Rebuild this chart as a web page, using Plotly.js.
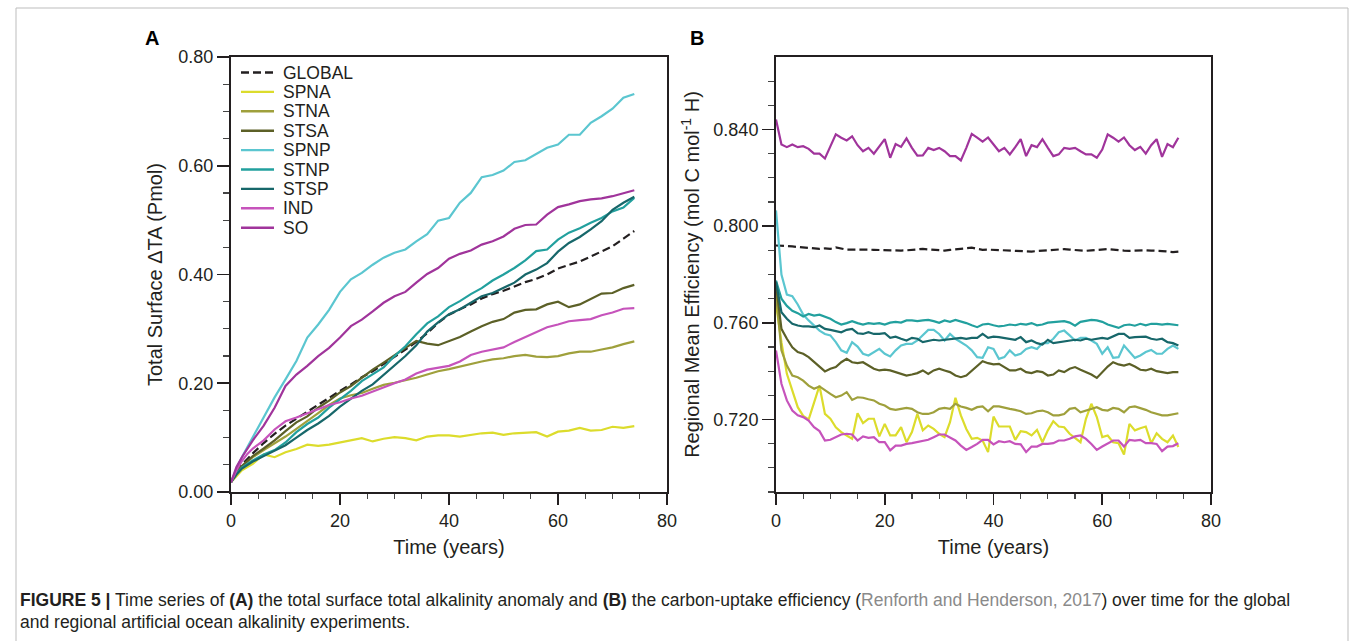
<!DOCTYPE html>
<html><head><meta charset="utf-8">
<script src="https://cdn.plot.ly/plotly-3.0.1.min.js"></script>
<style>html,body{margin:0;padding:0;background:#fff;overflow:hidden}#chart{width:1360px;height:641px}</style>
</head><body><div id="chart"></div>
<script>
// ---------- DATA ----------
const seriesNames = ["GLOBAL","SPNA","STNA","STSA","SPNP","STNP","STSP","IND","SO"];
const seriesColors = ["#231f20","#dcdc2c","#9fa03c","#5c6027","#5bc6d0","#22a09e","#17676a","#c653bb","#a0349b"];

// Panel A: total surface delta TA (Pmol)
const yearsA = [0,1,2,3,4,6,8,10,12,14,16,18,20,22,24,26,28,30,32,34,36,38,40,42,44,46,48,50,52,54,56,58,60,62,64,66,68,70,72,74];
const globalA = [0.018,0.037,0.050,0.061,0.071,0.090,0.107,0.122,0.135,0.148,0.160,0.173,0.186,0.198,0.211,0.222,0.235,0.248,0.262,0.276,0.292,0.311,0.326,0.336,0.345,0.356,0.364,0.370,0.378,0.386,0.392,0.400,0.411,0.418,0.424,0.433,0.442,0.452,0.466,0.480];
const spnaA   = [0.018,0.030,0.040,0.046,0.052,0.069,0.064,0.073,0.079,0.087,0.085,0.087,0.091,0.096,0.099,0.093,0.098,0.101,0.099,0.095,0.102,0.104,0.104,0.102,0.105,0.108,0.109,0.105,0.108,0.109,0.110,0.102,0.111,0.113,0.118,0.113,0.114,0.120,0.118,0.121];
const stnaA   = [0.018,0.035,0.047,0.056,0.064,0.077,0.089,0.102,0.116,0.130,0.145,0.160,0.172,0.178,0.182,0.190,0.197,0.201,0.205,0.210,0.216,0.222,0.226,0.231,0.236,0.240,0.244,0.246,0.250,0.252,0.249,0.248,0.250,0.255,0.258,0.258,0.262,0.266,0.272,0.277];
const stsaA   = [0.018,0.035,0.048,0.057,0.066,0.080,0.095,0.112,0.128,0.139,0.155,0.168,0.183,0.195,0.210,0.225,0.238,0.252,0.265,0.278,0.273,0.270,0.278,0.285,0.295,0.305,0.313,0.318,0.330,0.335,0.336,0.345,0.350,0.340,0.345,0.355,0.365,0.366,0.375,0.381];
const spnpA   = [0.018,0.043,0.064,0.082,0.101,0.137,0.174,0.207,0.241,0.284,0.308,0.335,0.368,0.391,0.403,0.418,0.431,0.440,0.446,0.461,0.474,0.499,0.504,0.532,0.550,0.579,0.583,0.591,0.607,0.610,0.621,0.633,0.639,0.657,0.657,0.679,0.691,0.705,0.725,0.732];
const stnpA   = [0.018,0.034,0.045,0.052,0.058,0.069,0.077,0.091,0.110,0.125,0.137,0.155,0.171,0.186,0.204,0.216,0.229,0.250,0.268,0.290,0.310,0.323,0.340,0.351,0.364,0.375,0.389,0.400,0.412,0.426,0.443,0.446,0.464,0.477,0.485,0.495,0.504,0.516,0.523,0.541];
const stspA   = [0.018,0.032,0.043,0.050,0.056,0.066,0.076,0.086,0.100,0.114,0.126,0.140,0.157,0.171,0.186,0.198,0.215,0.232,0.250,0.270,0.295,0.312,0.327,0.336,0.348,0.360,0.366,0.375,0.385,0.400,0.409,0.421,0.442,0.458,0.469,0.483,0.498,0.519,0.532,0.543];
const indA    = [0.018,0.040,0.057,0.070,0.080,0.095,0.115,0.130,0.137,0.145,0.152,0.160,0.165,0.172,0.177,0.185,0.192,0.200,0.207,0.218,0.225,0.228,0.232,0.240,0.252,0.258,0.262,0.266,0.276,0.285,0.295,0.303,0.308,0.314,0.316,0.318,0.325,0.330,0.337,0.338];
const soA     = [0.018,0.046,0.064,0.079,0.095,0.122,0.155,0.195,0.216,0.232,0.250,0.265,0.284,0.305,0.317,0.332,0.348,0.360,0.368,0.385,0.401,0.412,0.429,0.438,0.444,0.455,0.461,0.470,0.484,0.491,0.492,0.510,0.524,0.529,0.535,0.538,0.540,0.544,0.550,0.555];

// Panel B: regional mean efficiency (mol C / mol H)
const yearsB = [0,1,2,3,4,5,6,7,8,9,10,11,12,13,14,15,16,17,18,19,20,21,22,23,24,25,26,27,28,29,30,31,32,33,34,35,36,37,38,39,40,41,42,43,44,45,46,47,48,49,50,51,52,53,54,55,56,57,58,59,60,61,62,63,64,65,66,67,68,69,70,71,72,73,74];
const globalB = [0.7920,0.7920,0.7918,0.7916,0.7914,0.7912,0.7910,0.7906,0.7906,0.7908,
 0.7906,0.7912,0.7906,0.7903,0.7903,0.7904,0.7903,0.7903,0.7902,0.7901,
 0.7899,0.7898,0.7897,0.7899,0.7900,0.7902,0.7904,0.7906,0.7904,0.7903,
 0.7901,0.7899,0.7902,0.7904,0.7906,0.7908,0.7911,0.7906,0.7902,0.7903,
 0.7902,0.7902,0.7901,0.7900,0.7899,0.7897,0.7894,0.7895,0.7897,0.7899,
 0.7900,0.7902,0.7904,0.7905,0.7903,0.7901,0.7900,0.7898,0.7900,0.7902,
 0.7904,0.7905,0.7903,0.7900,0.7899,0.7898,0.7899,0.7900,0.7900,0.7899,
 0.7899,0.7897,0.7895,0.7893,0.7895];
const spnaB = [0.7680,0.7520,0.7389,0.7320,0.7251,0.7215,0.7200,0.7270,0.7340,0.7223,
 0.7203,0.7168,0.7148,0.7134,0.7120,0.7226,0.7185,0.7203,0.7203,0.7130,
 0.7182,0.7134,0.7134,0.7168,0.7106,0.7148,0.7223,0.7155,0.7175,0.7161,
 0.7141,0.7127,0.7189,0.7290,0.7217,0.7161,0.7120,0.7124,0.7113,0.7065,
 0.7212,0.7171,0.7171,0.7171,0.7116,0.7152,0.7148,0.7134,0.7157,0.7106,
 0.7155,0.7193,0.7171,0.7168,0.7141,0.7124,0.7106,0.7203,0.7265,0.7210,
 0.7127,0.7134,0.7106,0.7102,0.7055,0.7182,0.7155,0.7164,0.7171,0.7102,
 0.7143,0.7120,0.7106,0.7134,0.7086];
const stnaB = [0.7720,0.7486,0.7423,0.7382,0.7375,0.7361,0.7340,0.7327,0.7337,0.7320,
 0.7306,0.7292,0.7299,0.7313,0.7281,0.7292,0.7290,0.7284,0.7279,0.7265,
 0.7258,0.7244,0.7240,0.7244,0.7248,0.7244,0.7230,0.7223,0.7223,0.7230,
 0.7244,0.7248,0.7244,0.7265,0.7254,0.7248,0.7240,0.7251,0.7254,0.7234,
 0.7254,0.7254,0.7248,0.7244,0.7240,0.7234,0.7223,0.7226,0.7234,0.7237,
 0.7230,0.7217,0.7217,0.7223,0.7244,0.7248,0.7230,0.7237,0.7244,0.7251,
 0.7240,0.7237,0.7248,0.7244,0.7230,0.7251,0.7254,0.7248,0.7240,0.7230,
 0.7223,0.7217,0.7217,0.7221,0.7226];
const stsaB = [0.7760,0.7575,0.7534,0.7499,0.7479,0.7472,0.7458,0.7437,0.7417,0.7399,
 0.7410,0.7417,0.7437,0.7451,0.7437,0.7433,0.7437,0.7423,0.7410,0.7403,
 0.7406,0.7403,0.7396,0.7392,0.7382,0.7386,0.7392,0.7403,0.7389,0.7403,
 0.7410,0.7403,0.7396,0.7382,0.7375,0.7382,0.7403,0.7423,0.7441,0.7433,
 0.7428,0.7430,0.7417,0.7403,0.7403,0.7410,0.7396,0.7392,0.7400,0.7396,
 0.7382,0.7386,0.7403,0.7396,0.7410,0.7417,0.7406,0.7396,0.7386,0.7372,
 0.7396,0.7419,0.7437,0.7428,0.7423,0.7430,0.7419,0.7406,0.7403,0.7410,
 0.7400,0.7396,0.7392,0.7396,0.7396];
const spnpB = [0.8065,0.7800,0.7717,0.7710,0.7676,0.7634,0.7610,0.7589,0.7568,0.7554,
 0.7548,0.7520,0.7486,0.7476,0.7520,0.7502,0.7472,0.7465,0.7479,0.7492,
 0.7472,0.7461,0.7486,0.7506,0.7513,0.7513,0.7527,0.7548,0.7571,0.7571,
 0.7554,0.7527,0.7554,0.7534,0.7520,0.7506,0.7486,0.7458,0.7455,0.7499,
 0.7492,0.7451,0.7458,0.7486,0.7465,0.7472,0.7492,0.7499,0.7492,0.7516,
 0.7516,0.7534,0.7561,0.7568,0.7548,0.7527,0.7538,0.7538,0.7527,0.7513,
 0.7472,0.7499,0.7455,0.7458,0.7506,0.7479,0.7455,0.7465,0.7479,0.7488,
 0.7472,0.7472,0.7492,0.7506,0.7492];
const stnpB = [0.7775,0.7700,0.7670,0.7650,0.7640,0.7626,0.7637,0.7630,0.7634,0.7626,
 0.7617,0.7603,0.7593,0.7599,0.7607,0.7599,0.7593,0.7599,0.7596,0.7599,
 0.7593,0.7601,0.7604,0.7601,0.7610,0.7610,0.7607,0.7610,0.7612,0.7607,
 0.7600,0.7610,0.7604,0.7612,0.7607,0.7599,0.7590,0.7582,0.7593,0.7596,
 0.7590,0.7585,0.7588,0.7593,0.7590,0.7596,0.7593,0.7599,0.7590,0.7593,
 0.7601,0.7604,0.7604,0.7607,0.7601,0.7588,0.7604,0.7607,0.7612,0.7610,
 0.7604,0.7593,0.7585,0.7579,0.7590,0.7593,0.7588,0.7596,0.7590,0.7596,
 0.7596,0.7593,0.7596,0.7593,0.7590];
const stspB = [0.7770,0.7644,0.7617,0.7596,0.7589,0.7585,0.7585,0.7582,0.7589,0.7575,
 0.7571,0.7566,0.7561,0.7571,0.7575,0.7557,0.7554,0.7561,0.7554,0.7554,
 0.7557,0.7538,0.7543,0.7534,0.7527,0.7538,0.7534,0.7520,0.7524,0.7530,
 0.7527,0.7530,0.7534,0.7534,0.7538,0.7534,0.7538,0.7538,0.7554,0.7538,
 0.7543,0.7541,0.7538,0.7534,0.7530,0.7541,0.7520,0.7527,0.7516,0.7510,
 0.7530,0.7516,0.7520,0.7524,0.7527,0.7530,0.7527,0.7534,0.7530,0.7534,
 0.7538,0.7534,0.7543,0.7554,0.7554,0.7538,0.7541,0.7541,0.7543,0.7534,
 0.7530,0.7534,0.7520,0.7516,0.7506];
const indB = [0.7486,0.7348,0.7279,0.7237,0.7217,0.7210,0.7196,0.7168,0.7152,0.7113,
 0.7116,0.7127,0.7138,0.7141,0.7138,0.7113,0.7130,0.7124,0.7127,0.7106,
 0.7106,0.7072,0.7092,0.7092,0.7099,0.7102,0.7106,0.7110,0.7116,0.7127,
 0.7138,0.7138,0.7124,0.7113,0.7092,0.7074,0.7086,0.7099,0.7116,0.7116,
 0.7097,0.7110,0.7106,0.7110,0.7099,0.7097,0.7065,0.7088,0.7088,0.7099,
 0.7099,0.7102,0.7113,0.7113,0.7120,0.7130,0.7134,0.7120,0.7099,0.7074,
 0.7088,0.7102,0.7113,0.7113,0.7088,0.7116,0.7113,0.7116,0.7102,0.7102,
 0.7099,0.7069,0.7088,0.7090,0.7102];
const soB = [0.8441,0.8338,0.8327,0.8338,0.8327,0.8331,0.8320,0.8300,0.8300,0.8280,
 0.8330,0.8380,0.8366,0.8355,0.8372,0.8335,0.8310,0.8324,0.8300,0.8330,
 0.8360,0.8283,0.8340,0.8328,0.8363,0.8324,0.8292,0.8293,0.8324,0.8315,
 0.8324,0.8310,0.8290,0.8290,0.8272,0.8324,0.8382,0.8366,0.8350,0.8367,
 0.8340,0.8310,0.8324,0.8297,0.8327,0.8360,0.8290,0.8335,0.8327,0.8360,
 0.8324,0.8290,0.8297,0.8324,0.8320,0.8324,0.8310,0.8297,0.8297,0.8283,
 0.8317,0.8380,0.8366,0.8350,0.8367,0.8335,0.8315,0.8328,0.8300,0.8335,
 0.8360,0.8287,0.8340,0.8327,0.8366];

const seriesA = [globalA, spnaA, stnaA, stsaA, spnpA, stnpA, stspA, indA, soA];
const seriesB = [globalB, spnaB, stnaB, stsaB, spnpB, stnpB, stspB, indB, soB];

const panelLetters = ["A","B"];
const xTitle = "Time (years)";
const yTitleA = "Total Surface \u0394TA (Pmol)";
const yTitleB = "Regional Mean Efficiency (mol C mol<sup>-1</sup> H)";
const captionLine1 = "<b>FIGURE 5 |</b> Time series of <b>(A)</b> the total surface total alkalinity anomaly and <b>(B)</b> the carbon-uptake efficiency (<span style=\"color:#8a8a8a\">Renforth and Henderson, 2017</span>) over time for the global";
const captionLine2 = "and regional artificial ocean alkalinity experiments.";

// ---------- LAYOUT HELPERS ----------
const W = 1360, H = 641;
const px = x => x / W;
const py = y => 1 - y / H;
const FONT = "Liberation Sans, Arial, Helvetica, sans-serif";
const INK = "#231f20";

const traces = [];
seriesNames.forEach((name, i) => {
  const line = {color: seriesColors[i], width: 2.2};
  if (name === "GLOBAL") line.dash = "8px,4px";
  traces.push({x: yearsA, y: seriesA[i], type: "scatter", mode: "lines", name: name,
               line: line, xaxis: "x", yaxis: "y", showlegend: false});
});
seriesNames.forEach((name, i) => {
  const line = {color: seriesColors[i], width: 2.2};
  if (name === "GLOBAL") line.dash = "8px,4px";
  traces.push({x: yearsB, y: seriesB[i], type: "scatter", mode: "lines", name: name,
               line: line, xaxis: "x2", yaxis: "y2", showlegend: false});
});

function xAxis(domain, anchor) {
  return {domain: domain, range: [0, 80], anchor: anchor, showgrid: false, zeroline: false,
    showline: true, mirror: true, linecolor: INK, linewidth: 2,
    ticks: "outside", ticklen: 11, tickwidth: 1.6, tickcolor: INK,
    tickmode: "linear", tick0: 0, dtick: 20,
    minor: {ticks: "outside", ticklen: 5, tickwidth: 1.2, tickcolor: "#444", tickmode: "linear", tick0: 0, dtick: 5},
    tickfont: {family: FONT, size: 18, color: INK},
    title: {text: xTitle, font: {family: FONT, size: 20, color: INK}, standoff: 10},
    fixedrange: true};
}
const yDomain = [py(492), py(57)];

const minorB = [];
for (let k = 0; k <= 17; k++) minorB.push(+(0.69 + k * 0.01).toFixed(2));

const layout = {
  width: W, height: H, margin: {l: 0, r: 0, t: 0, b: 0},
  paper_bgcolor: "#fff", plot_bgcolor: "rgba(0,0,0,0)",
  showlegend: false,
  font: {family: FONT, size: 17, color: INK},
  xaxis: xAxis([px(231), px(667)], "y"),
  xaxis2: xAxis([px(776), px(1211)], "y2"),
  yaxis: {domain: yDomain, range: [0, 0.8], anchor: "x", showgrid: false, zeroline: false,
    showline: true, mirror: true, linecolor: INK, linewidth: 2,
    ticks: "outside", ticklen: 12, tickwidth: 1.6, tickcolor: INK,
    tickmode: "linear", tick0: 0, dtick: 0.2, tickformat: ".2f",
    minor: {ticks: "outside", ticklen: 6, tickwidth: 1.2, tickcolor: "#444", tickmode: "linear", tick0: 0, dtick: 0.05},
    tickfont: {family: FONT, size: 18, color: INK},
    title: {text: yTitleA, font: {family: FONT, size: 20, color: INK}, standoff: 10},
    fixedrange: true},
  yaxis2: {domain: yDomain, range: [0.69, 0.87], anchor: "x2", showgrid: false, zeroline: false,
    showline: true, mirror: true, linecolor: INK, linewidth: 2,
    ticks: "outside", ticklen: 12, tickwidth: 1.6, tickcolor: INK,
    tickmode: "array", tickvals: [0.72, 0.76, 0.80, 0.84], ticktext: ["0.720","0.760","0.800","0.840"],
    minor: {ticks: "outside", ticklen: 6, tickwidth: 1.2, tickcolor: "#444", tickmode: "array", tickvals: minorB},
    tickfont: {family: FONT, size: 18, color: INK},
    title: {text: yTitleB, font: {family: FONT, size: 20, color: INK}, standoff: 8},
    fixedrange: true},
  annotations: [],
  shapes: []
};

// panel letters
[[152, 38], [697, 38]].forEach((p, i) => {
  layout.annotations.push({xref: "paper", yref: "paper", x: px(p[0]), y: py(p[1]),
    xanchor: "center", yanchor: "middle", showarrow: false,
    text: "<b>" + panelLetters[i] + "</b>", font: {family: FONT, size: 20, color: "#000"}});
});

// legend (drawn inside panel A)
seriesNames.forEach((name, i) => {
  const yy = 72.5 + i * 19.4;
  layout.shapes.push({type: "line", xref: "paper", yref: "paper",
    x0: px(241), x1: px(274), y0: py(yy), y1: py(yy),
    line: {color: seriesColors[i], width: 2.4, dash: name === "GLOBAL" ? "8px,4px" : "solid"}});
  layout.annotations.push({xref: "paper", yref: "paper", x: px(281), y: py(yy),
    xanchor: "left", yanchor: "middle", showarrow: false, text: name,
    font: {family: FONT, size: 17.5, color: INK}});
});

// caption
const CAPFONT = {family: "Liberation Sans Narrow, Arial Narrow, Liberation Sans, Arial, sans-serif", size: 17.5, color: INK};
layout.annotations.push({xref: "paper", yref: "paper", x: px(18), y: py(600), xanchor: "left", yanchor: "middle",
  showarrow: false, align: "left", text: captionLine1, font: CAPFONT});
layout.annotations.push({xref: "paper", yref: "paper", x: px(18), y: py(622), xanchor: "left", yanchor: "middle",
  showarrow: false, align: "left", text: captionLine2, font: CAPFONT});

// outer figure frame
layout.shapes.push({type: "path", xref: "paper", yref: "paper",
  path: `M ${px(16)} ${py(645)} L ${px(16)} ${py(8)} L ${px(1348)} ${py(8)} L ${px(1348)} ${py(645)}`,
  line: {color: "#bdbdbd", width: 1}});

Plotly.newPlot("chart", traces, layout, {displayModeBar: false, staticPlot: true});
</script></body></html>
